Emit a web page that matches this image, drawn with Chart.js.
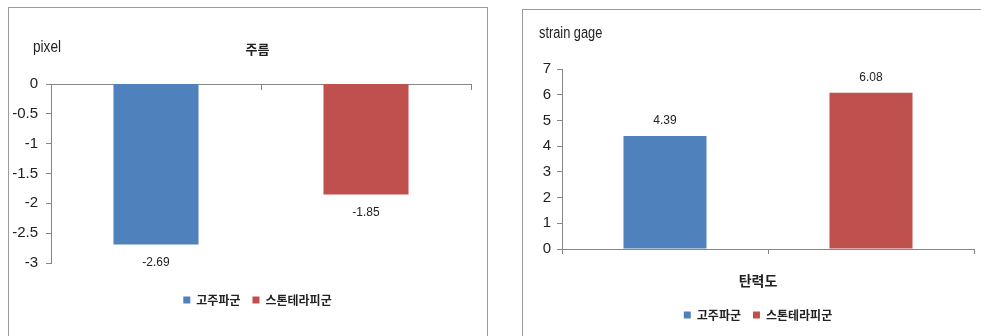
<!DOCTYPE html>
<html>
<head>
<meta charset="utf-8">
<script src="https://cdn.jsdelivr.net/npm/chart.js@4.4.1/dist/chart.umd.min.js"></script>
<style>
  body { margin: 0; background: #fff; }
  #page { position: relative; width: 981px; height: 336px; overflow: hidden; background: #fff; }
  .frame { position: absolute; border: 1px solid #9a9a9a; box-sizing: border-box; }
  #frame1 { left: 8px; top: 7px; width: 480px; height: 340px; }
  #frame2 { left: 522px; top: 9px; width: 480px; height: 340px; }
  canvas { position: absolute; }
  #wrinkle { left: 9px; top: 8px; }
  #elastic { left: 523px; top: 10px; }
</style>
</head>
<body>
<div id="page">
  <div class="frame" id="frame1"></div>
  <div class="frame" id="frame2"></div>
  <canvas id="wrinkle" width="497" height="328"></canvas>
  <canvas id="elastic" width="458" height="326"></canvas>
</div>
<script>
const groups = ['고주파군', '스톤테라피군'];
const wrinkleValues = [-2.69, -1.85];
const elasticValues = [4.39, 6.08];
const wrinkleTicks = [0, -0.5, -1, -1.5, -2, -2.5, -3];
const elasticTicks = [0, 1, 2, 3, 4, 5, 6, 7];

const colors = ['#4F81BD', '#C0504D'];
const axisColor = '#868686';
const tickFont = { family: "'Liberation Sans', Arial, sans-serif", size: 15 };
const legendFont = { family: "'Noto Sans CJK KR', sans-serif", size: 12, weight: 'bold' };

Chart.defaults.font.family = "'Noto Sans CJK KR', sans-serif";
Chart.defaults.color = '#222';
Chart.defaults.animation = false;

// one dataset per group so the legend lists both, bars stay centred with skipNull
function groupDatasets(values) {
  return groups.map((g, i) => ({
    label: g,
    data: groups.map((_, j) => j === i ? values[i] : null),
    backgroundColor: colors[i],
    borderWidth: 0,
    xAxisID: 'x'
  }));
}

// invisible axis, only used to reserve room in the layout
function spacer(axis, position, size) {
  return {
    axis, position, type: axis === 'x' ? 'category' : 'linear',
    grid: { display: false },
    border: { display: false },
    ticks: { display: false },
    afterFit: s => { if (axis === 'x') s.height = size; else s.width = size; }
  };
}

// value labels at the bar ends + unit text above the y axis
const extras = {
  id: 'extras',
  afterDatasetsDraw(chart, args, opts) {
    const ctx = chart.ctx;
    const area = chart.chartArea;
    ctx.save();
    ctx.fillStyle = '#222';
    ctx.textAlign = 'center';
    ctx.textBaseline = 'middle';
    ctx.font = "12px 'Liberation Sans', Arial, sans-serif";
    chart.data.datasets.forEach((ds, i) => {
      chart.getDatasetMeta(i).data.forEach((bar, j) => {
        const v = ds.data[j];
        if (v === null) return;
        const y = v < 0 ? bar.y + opts.offset : bar.y - opts.offset;
        ctx.fillText(v.toFixed(2), bar.x, y);
      });
    });
    // the original uses a narrow face for the unit, squeeze it a bit
    ctx.textAlign = 'left';
    ctx.font = opts.unitSize + "px 'Liberation Sans', Arial, sans-serif";
    ctx.translate(area.left + opts.unitX, area.top + opts.unitY);
    ctx.scale(0.8, 1);
    ctx.fillText(opts.unit, 0, 0);
    ctx.restore();
  }
};

new Chart(document.getElementById('wrinkle'), {
  type: 'bar',
  data: { labels: groups, datasets: groupDatasets(wrinkleValues) },
  options: {
    responsive: false,
    skipNull: true,
    categoryPercentage: 0.405,
    barPercentage: 1,
    layout: { padding: { left: 0, right: 0, top: 0, bottom: 20 } },
    scales: {
      x: {
        position: { y: 0 },
        grid: { drawOnChartArea: false, color: axisColor, tickLength: 5, offset: true },
        border: { color: axisColor },
        ticks: { display: false }
      },
      gapBottom: spacer('x', 'bottom', 19),
      gapRight: spacer('y', 'right', 35),
      y: {
        min: Math.min(...wrinkleTicks),
        max: Math.max(...wrinkleTicks),
        afterBuildTicks: s => { s.ticks = wrinkleTicks.map(v => ({ value: v })); },
        grid: { drawOnChartArea: false, color: axisColor, tickLength: 5 },
        border: { color: axisColor },
        ticks: { font: tickFont, padding: 8, color: '#222', callback: v => String(v) },
        afterFit: s => { s.width = 42; }
      }
    },
    plugins: {
      title: {
        display: true, text: '주름', color: '#222',
        font: { size: 13, weight: 'bold' },
        padding: { top: 33, bottom: 27.4 }
      },
      legend: {
        position: 'bottom',
        labels: { boxWidth: 7, boxHeight: 7, padding: 12, font: legendFont, color: '#222' }
      },
      tooltip: { enabled: false },
      extras: { offset: 18, unit: 'pixel', unitSize: 17, unitX: -18, unitY: -37 }
    }
  },
  plugins: [extras]
});

new Chart(document.getElementById('elastic'), {
  type: 'bar',
  data: { labels: groups, datasets: groupDatasets(elasticValues) },
  options: {
    responsive: false,
    skipNull: true,
    categoryPercentage: 0.403,
    barPercentage: 1,
    layout: { padding: { left: 19, right: 7, top: 59, bottom: 5 } },
    scales: {
      x: {
        position: 'bottom',
        grid: { drawOnChartArea: false, color: axisColor, tickLength: 5, offset: true },
        border: { color: axisColor },
        ticks: { display: false },
        afterFit: s => { s.height = 5; }
      },
      y: {
        min: Math.min(...elasticTicks),
        max: Math.max(...elasticTicks),
        afterBuildTicks: s => { s.ticks = elasticTicks.map(v => ({ value: v })); },
        grid: { drawOnChartArea: false, color: axisColor, tickLength: 5 },
        border: { color: axisColor },
        ticks: { font: tickFont, padding: 6, color: '#222', callback: v => String(v) },
        afterFit: s => { s.width = 20; }
      }
    },
    plugins: {
      title: {
        display: true, text: '탄력도', position: 'bottom', weight: 500, color: '#222',
        font: { size: 14, weight: 'bold' },
        padding: { top: 18.6, bottom: 7.6 }
      },
      legend: {
        position: 'bottom',
        labels: { boxWidth: 7, boxHeight: 7, padding: 12, font: legendFont, color: '#222' }
      },
      tooltip: { enabled: false },
      extras: { offset: 15, unit: 'strain gage', unitSize: 16, unitX: -23, unitY: -35 }
    }
  },
  plugins: [extras]
});
</script>
</body>
</html>
